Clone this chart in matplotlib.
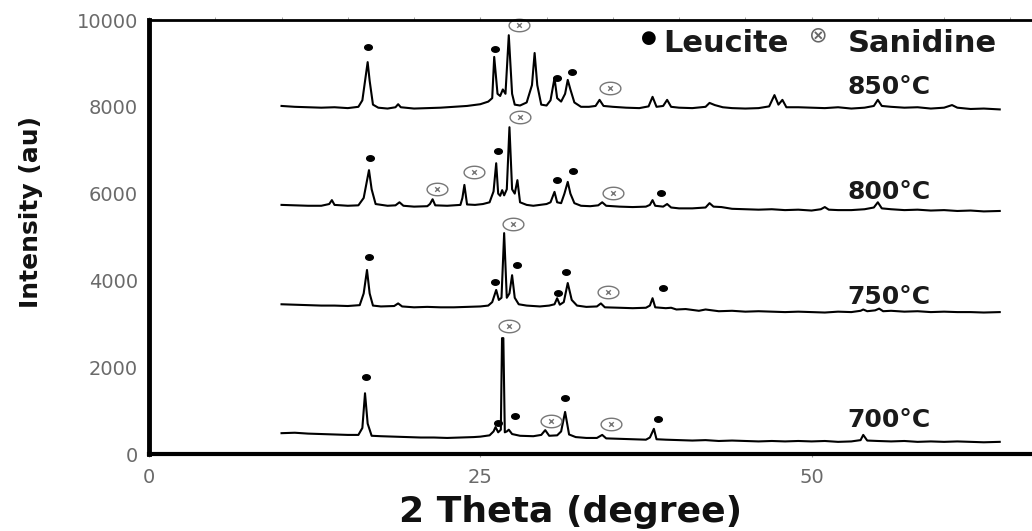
import matplotlib
matplotlib.use("Agg")
import matplotlib.pyplot as plt
import numpy as np
from matplotlib.path import Path
from matplotlib.ticker import MultipleLocator

# ---- XRD patterns (2-theta in degrees, intensity in arbitrary units) ----
two_theta_850 = [10.0, 11.0, 12.0, 13.0, 14.0, 15.0, 15.8, 16.1, 16.35, 16.5, 16.65, 16.9, 17.3, 18.0,
                 18.6, 18.8, 19.0, 20.0, 21.0, 22.0, 23.0, 24.0, 25.0, 25.6, 25.9, 26.05, 26.3, 26.5,
                 26.7, 26.9, 27.15, 27.4, 27.6, 28.0, 28.5, 28.9, 29.1, 29.3, 29.6, 30.0, 30.3, 30.6,
                 30.8, 31.1, 31.4, 31.6, 31.8, 32.1, 32.6, 33.2, 33.7, 34.0, 34.3, 35.0, 36.0, 37.0,
                 37.7, 38.0, 38.3, 38.8, 39.1, 39.4, 40.0, 41.0, 42.0, 42.3, 42.7, 43.3, 44.0, 45.0,
                 46.0, 46.8, 47.2, 47.5, 47.8, 48.1, 49.0, 50.0, 51.0, 52.0, 53.0, 54.0, 54.7, 55.0,
                 55.3, 56.0, 57.0, 58.0, 59.0, 60.0, 60.6, 61.0, 62.0, 63.0, 64.2]
counts_850 = [8020, 8000, 7990, 7980, 7990, 7970, 8000, 8150, 8700, 9030, 8600, 8050, 7980, 7960,
              7990, 8060, 7990, 7960, 7970, 7980, 8000, 8020, 8060, 8120, 8200, 9150, 8300, 8250,
              8400, 8300, 9650, 8300, 8050, 8030, 8100, 8500, 9240, 8500, 8050, 8030, 8150, 8660,
              8200, 8120, 8300, 8620, 8400, 8100, 8000, 8000, 8020, 8160, 8020, 8000, 7980, 7970,
              8010, 8230, 8000, 8020, 8160, 8000, 7980, 7970, 8000, 8090, 8040, 7990, 7970, 7960,
              7970, 8010, 8270, 8050, 8160, 7990, 7990, 7980, 7970, 7990, 7960, 7980, 8020, 8160,
              8020, 8000, 7980, 7990, 7960, 7980, 8040, 7980, 7950, 7960, 7940]

two_theta_800 = [10.0, 11.0, 12.0, 13.0, 13.6, 13.8, 14.0, 15.0, 15.8, 16.2, 16.45, 16.6, 16.8, 17.1,
                 18.0, 18.6, 18.9, 19.2, 20.0, 21.0, 21.2, 21.4, 21.6, 22.5, 23.5, 23.65, 23.8, 24.0,
                 24.6, 25.2, 25.7, 26.0, 26.2, 26.35, 26.5, 26.65, 26.8, 27.0, 27.2, 27.4, 27.6, 27.8,
                 28.0, 28.5, 29.0, 29.5, 30.0, 30.3, 30.6, 30.8, 31.1, 31.35, 31.6, 31.8, 32.1, 32.6,
                 33.3, 33.9, 34.2, 34.5, 35.5, 36.5, 37.5, 37.8, 38.0, 38.2, 38.8, 39.1, 39.4, 40.0,
                 41.0, 42.0, 42.3, 42.6, 43.2, 44.0, 45.0, 46.0, 47.0, 48.0, 49.0, 50.0, 50.7, 51.0,
                 51.3, 52.0, 53.0, 54.0, 54.7, 55.0, 55.3, 56.0, 57.0, 58.0, 59.0, 60.0, 61.0, 62.0,
                 63.0, 64.2]
counts_800 = [5740, 5730, 5720, 5720, 5760, 5850, 5740, 5720, 5730, 5900, 6300, 6540, 6100, 5760,
              5720, 5730, 5800, 5720, 5700, 5710, 5760, 5870, 5730, 5720, 5740, 5900, 6200, 5750,
              5740, 5760, 5800, 6050, 6700, 6000, 5950, 6080, 5960, 6100, 7530, 6100, 6000, 6310,
              5800, 5740, 5720, 5740, 5760, 5800, 6040, 5800, 5780, 6000, 6270, 6000, 5780, 5720,
              5710, 5730, 5800, 5720, 5700, 5690, 5700, 5740, 5850, 5720, 5700, 5760, 5680, 5660,
              5660, 5680, 5780, 5700, 5690, 5650, 5640, 5630, 5640, 5620, 5630, 5610, 5640, 5690,
              5630, 5620, 5620, 5640, 5680, 5800, 5660, 5640, 5620, 5630, 5610, 5620, 5600, 5610,
              5590, 5600]

two_theta_750 = [10.0, 11.0, 12.0, 13.0, 14.0, 15.0, 15.9, 16.2, 16.45, 16.65, 16.9, 17.5, 18.5, 18.8,
                 19.1, 20.0, 21.0, 22.0, 23.0, 24.0, 25.0, 25.6, 25.9, 26.2, 26.4, 26.6, 26.8, 27.0,
                 27.2, 27.4, 27.6, 27.9, 28.5, 29.5, 30.2, 30.6, 30.8, 31.0, 31.3, 31.6, 31.9, 32.3,
                 33.0, 33.8, 34.1, 34.4, 35.5, 36.5, 37.5, 37.8, 38.0, 38.2, 39.0, 39.4, 39.8, 40.5,
                 41.5, 42.0, 43.0, 44.0, 45.0, 46.0, 47.0, 48.0, 49.0, 50.0, 51.0, 52.0, 53.0, 53.7,
                 53.9, 54.2, 54.8, 55.1, 55.4, 56.0, 57.0, 58.0, 59.0, 60.0, 61.0, 62.0, 63.0, 64.2]
counts_750 = [3450, 3440, 3430, 3420, 3420, 3410, 3430, 3700, 4240, 3700, 3420, 3400, 3410, 3470,
              3400, 3380, 3390, 3380, 3380, 3390, 3400, 3420, 3500, 3780, 3550, 3600, 5090, 3600,
              3700, 4120, 3600, 3450, 3420, 3400, 3420, 3450, 3590, 3440, 3500, 3940, 3550, 3420,
              3390, 3400, 3470, 3380, 3370, 3360, 3370, 3420, 3590, 3380, 3360, 3370, 3330, 3340,
              3300, 3330, 3290, 3300, 3280, 3290, 3280, 3270, 3280, 3270, 3260, 3280, 3270, 3300,
              3330, 3290, 3310, 3350, 3290, 3300, 3280, 3290, 3270, 3280, 3270, 3270, 3260, 3270]

two_theta_700 = [10.0, 11.0, 12.0, 13.0, 14.0, 15.0, 15.8, 16.1, 16.3, 16.5, 16.8, 17.5, 18.5, 19.5,
                 20.5, 21.5, 22.5, 23.5, 24.5, 25.0, 25.7, 26.0, 26.15, 26.35, 26.55, 26.64, 26.74,
                 26.85, 27.0, 27.15, 27.4, 28.0, 29.0, 29.6, 29.9, 30.2, 30.8, 31.1, 31.4, 31.7, 32.2,
                 33.0, 33.8, 34.2, 34.5, 35.5, 36.5, 37.5, 37.8, 38.1, 38.3, 39.0, 40.0, 41.0, 42.0,
                 43.0, 44.0, 45.0, 46.0, 47.0, 48.0, 49.0, 50.0, 51.0, 52.0, 53.0, 53.7, 53.9, 54.2,
                 55.0, 56.0, 57.0, 58.0, 59.0, 60.0, 61.0, 62.0, 63.0, 64.2]
counts_700 = [480, 490, 470, 460, 450, 440, 440, 600, 1400, 700, 420, 410, 400, 390,
              380, 380, 370, 380, 390, 400, 430, 520, 620, 500, 560, 2670, 2670,
              500, 520, 560, 460, 420, 410, 440, 550, 420, 430, 520, 970, 450, 390,
              370, 370, 440, 360, 350, 340, 330, 380, 580, 340, 330, 320, 310, 320,
              300, 310, 300, 290, 300, 290, 300, 290, 300, 280, 290, 320, 440, 310,
              300, 290, 300, 280, 290, 280, 290, 280, 270, 280]

# ---- phase markers (2-theta, intensity) ----
leucite_x = [16.5, 26.1, 30.8, 31.9,
             16.7, 26.3, 30.8, 32.0, 38.6,
             16.6, 26.1, 27.8, 30.9, 31.5, 38.8,
             16.4, 26.3, 27.6, 31.4, 38.4]
leucite_y = [9380, 9330, 8665, 8800,
             6820, 6980, 6310, 6520, 6020,
             4540, 3963, 4355, 3710, 4194, 3825,
             1774, 714, 876, 1290, 806]
sanidine_x = [27.9, 34.8,
              21.7, 24.5, 28.0, 35.0,
              27.5, 34.6,
              27.2, 30.3, 34.9]
sanidine_y = [9885, 8430,
              6106, 6498, 7765, 6014,
              5300, 3733,
              2949, 760, 691]

# ---- temperature labels ----
temp_labels = ["850\u00b0C", "800\u00b0C", "750\u00b0C", "700\u00b0C"]
temp_label_x = [52.7, 52.7, 52.7, 52.7]
temp_label_y = [8456, 6037, 3618, 783]

x_ticks = [0, 25, 50]
y_ticks = [0, 2000, 4000, 6000, 8000, 10000]

fig = plt.figure(figsize=(10.32, 5.31), dpi=100)
# the frame runs past the right edge of the canvas
ax = fig.add_axes([0.1444, 0.145, 0.8988, 0.8173])

for tt, ct in [(two_theta_850, counts_850), (two_theta_800, counts_800),
               (two_theta_750, counts_750), (two_theta_700, counts_700)]:
    ax.plot(tt, ct, color="black", lw=1.5, solid_joinstyle="round")

# leucite: small filled ellipse; sanidine: open ellipse with a cross
t = np.linspace(0, 2 * np.pi, 41)
dot_path = Path(np.column_stack([np.cos(t), 0.72 * np.sin(t)]), closed=True)
ell = np.column_stack([np.cos(t), 0.6 * np.sin(t)])
cr = 0.22
verts = list(ell) + [(-cr, -cr), (cr, cr), (-cr, cr), (cr, -cr)]
codes = [Path.MOVETO] + [Path.LINETO] * (len(ell) - 1) + \
        [Path.MOVETO, Path.LINETO, Path.MOVETO, Path.LINETO]
san_path = Path(verts, codes)

ax.plot(leucite_x, leucite_y, ls="none", marker=dot_path, ms=5.5,
        color="black", mec="black")
ax.plot(sanidine_x, sanidine_y, ls="none", marker=san_path, ms=15,
        mfc="none", mec="#777777", mew=1.0, clip_on=False)

for lab, lx, ly in zip(temp_labels, temp_label_x, temp_label_y):
    ax.text(lx, ly, lab, fontsize=18, fontweight="bold", family="DejaVu Sans",
            color="#1a1a1a", ha="left", va="center")

# key in the upper right
ax.text(37.7, 9585, "\u25cf", fontsize=13, color="black", ha="center", va="center")
ax.text(38.8, 9470, "Leucite", fontsize=22, fontweight="bold", family="DejaVu Sans",
        color="#1a1a1a", ha="left", va="center")
ax.text(50.5, 9654, "\u2297", fontsize=16, color="#666666", ha="center", va="center",
        family="DejaVu Sans")
ax.text(52.7, 9470, "Sanidine", fontsize=22, fontweight="bold", family="DejaVu Sans",
        color="#1a1a1a", ha="left", va="center")

ax.set_xlim(0, 70)
ax.set_ylim(0, 10000)
ax.set_xticks(x_ticks)
ax.set_yticks(y_ticks)
ax.xaxis.set_minor_locator(MultipleLocator(5))
ax.tick_params(axis="both", which="major", length=0, labelsize=14,
               labelcolor="#6a6a6a", pad=8)
ax.tick_params(axis="x", which="major", top=True, length=2, color="#999999")
ax.tick_params(axis="x", which="minor", bottom=False, top=True, length=2,
               color="#999999")

ax.spines["left"].set_linewidth(3.5)
ax.spines["bottom"].set_linewidth(3.0)
ax.spines["top"].set_linewidth(2.0)
ax.spines["right"].set_visible(False)

fig.text(0.553, 0.003, "2 Theta (degree)", fontsize=26, fontweight="bold",
         family="DejaVu Sans", color="#111111", ha="center", va="bottom")
fig.text(0.030, 0.60, "Intensity (au)", fontsize=18, fontweight="bold",
         family="DejaVu Sans", color="#111111",
         rotation=90, ha="center", va="center")

fig.savefig("out.png", dpi=100)
